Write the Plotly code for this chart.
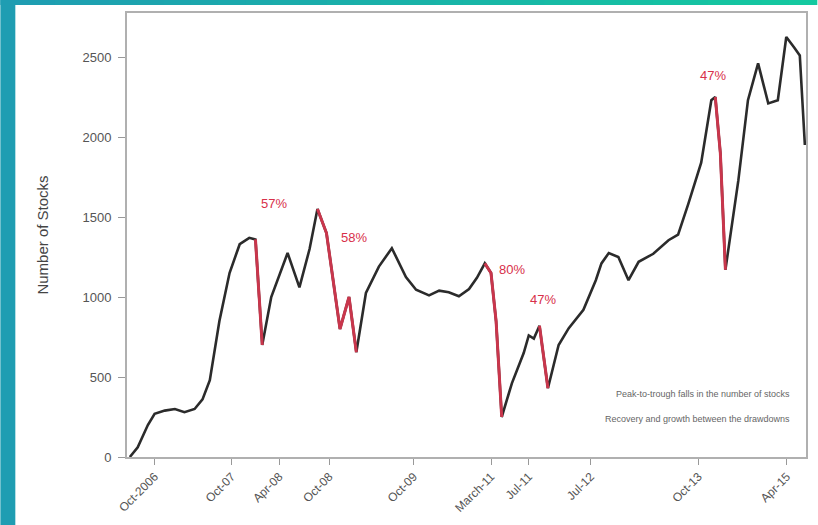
import plotly.graph_objects as go

# ---- data -------------------------------------------------------------
months = [0.0, 1.4, 3.2, 4.4, 6.2, 8.0, 9.7, 11.5, 12.9, 14.2, 15.9, 17.7, 19.5, 21.2,
          22.3, 23.5, 25.1, 28.0, 30.1, 31.9, 33.3, 34.9, 37.3, 38.9, 40.2, 41.9,
          44.2, 46.5, 49.0, 50.8, 53.1, 54.9, 56.6, 58.4, 60.2, 61.6, 63.0, 64.1,
          65.0, 66.0, 67.8, 69.9, 70.8, 71.7, 72.7, 74.2, 76.1, 77.9, 80.5, 82.7,
          83.7, 85.0, 86.7, 88.5, 90.3, 92.9, 95.6, 97.3, 99.1, 101.4, 103.2, 103.9,
          104.8, 105.7, 108.0, 109.7, 111.5, 113.3, 115.0, 116.5, 117.9, 118.9, 119.8]
stocks = [0, 60, 200, 270, 290, 300, 280, 300, 360, 480, 850, 1150, 1330, 1370,
          1360, 700, 1000, 1275, 1060, 1300, 1550, 1400, 800, 1000, 655, 1025,
          1190, 1305, 1125, 1045, 1010, 1040, 1030, 1005, 1050, 1120, 1210, 1150,
          850, 250, 460, 650, 760, 740, 820, 430, 700, 805, 920, 1105,
          1210, 1275, 1250, 1105, 1220, 1270, 1355, 1390, 1580, 1840, 2230, 2250,
          1900, 1170, 1730, 2230, 2460, 2210, 2230, 2625, 2560, 2510, 1950]

# peak / trough indices of the highlighted declines
decline_peaks = [14, 20, 36, 44, 61]
decline_troughs = [15, 24, 39, 45, 63]
decline_labels = ["57%", "58%", "80%", "47%", "47%"]

tick_months = [4.4, 18.1, 26.5, 35.4, 50.4, 64.1, 70.8, 81.8, 100.9, 116.6]
tick_labels = ["Oct-2006", "Oct-07", "Apr-08", "Oct-08", "Oct-09", "March-11",
               "Jul-11", "Jul-12", "Oct-13", "Apr-15"]
y_ticks = [0, 500, 1000, 1500, 2000, 2500]

legend_lines = ["Peak-to-trough falls in the number of stocks",
                "Recovery and growth between the drawdowns"]

# ---- figure -----------------------------------------------------------
fig = go.Figure()
fig.add_trace(go.Scatter(x=months, y=stocks, mode="lines",
                         line=dict(color="#2b2b2b", width=2.6),
                         hoverinfo="skip", showlegend=False))
for p, t in zip(decline_peaks, decline_troughs):
    fig.add_trace(go.Scatter(x=months[p:t + 1], y=stocks[p:t + 1], mode="lines",
                             line=dict(color="#c9364c", width=3),
                             hoverinfo="skip", showlegend=False))

# label offsets (pixels) relative to each decline's peak
offsets = [(19, -36), (37, 28), (27, 6), (4, -26), (-2, -22)]
for p, lab, (dx, dy) in zip(decline_peaks, decline_labels, offsets):
    fig.add_annotation(x=months[p], y=stocks[p], text=lab, showarrow=False,
                       xshift=dx, yshift=-dy,
                       font=dict(color="#d8304a", size=13,
                                 family="Liberation Sans, Arial, sans-serif"))

# legend-like notes
for i, txt in enumerate(legend_lines):
    fig.add_annotation(xref="paper", yref="paper", x=0.98, y=0.142 - i * 0.056,
                       xanchor="right", yanchor="middle", text=txt, showarrow=False,
                       font=dict(color="#666666", size=9,
                                 family="Liberation Sans, Arial, sans-serif"))

# page decoration: teal strips on the left and top edges
L, R, T, B = 127, 10, 13, 68
W, H = 818 - L - R, 525 - T - B
shapes = [dict(type="rect", xref="paper", yref="paper",
               x0=-L / W, x1=-(L - 15) / W, y0=-B / H, y1=1 + T / H,
               fillcolor="#1f9db2", line=dict(width=0), layer="below")]
n = 30
c0, c1 = (31, 157, 178), (20, 201, 160)
for k in range(n):
    f = k / (n - 1)
    col = "rgb(%d,%d,%d)" % tuple(int(a + (b - a) * f) for a, b in zip(c0, c1))
    x0 = -L / W + k * (818 / W) / n
    shapes.append(dict(type="rect", xref="paper", yref="paper",
                       x0=x0, x1=x0 + (818 / W) / n + 0.002,
                       y0=1 + (T - 5) / H, y1=1 + T / H,
                       fillcolor=col, line=dict(width=0), layer="below"))

fig.update_layout(
    width=818, height=525,
    margin=dict(l=L, r=R, t=T, b=B),
    paper_bgcolor="white", plot_bgcolor="white",
    shapes=shapes,
    font=dict(family="Liberation Sans, Arial, sans-serif", color="#444444"),
    xaxis=dict(range=[-0.5, 120], tickmode="array", tickvals=tick_months,
               ticktext=tick_labels, tickangle=-45, ticks="outside", ticklen=6,
               tickcolor="#999999", tickfont=dict(size=12, color="#555555"),
               showline=True, linecolor="#b0b0b0", linewidth=2, mirror=True,
               showgrid=False, zeroline=False),
    yaxis=dict(range=[0, 2775], tickmode="array", tickvals=y_ticks,
               ticks="outside", ticklen=7, tickcolor="#999999",
               tickfont=dict(size=13, color="#555555"), ticklabelstandoff=4,
               title=dict(text="Number of Stocks", font=dict(size=15, color="#444444"),
                          standoff=30),
               showline=True, linecolor="#b0b0b0", linewidth=2, mirror=True,
               showgrid=False, zeroline=False),
)

fig.write_html("out.html")
